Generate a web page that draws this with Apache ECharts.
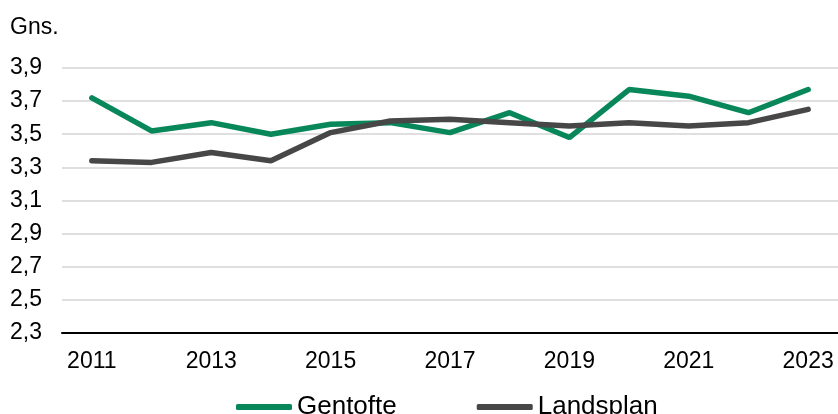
<!DOCTYPE html>
<html>
<head>
<meta charset="utf-8">
<script src="https://cdn.jsdelivr.net/npm/echarts@6/dist/echarts.min.js"></script>
<style>
html,body{margin:0;padding:0;background:#fff;}
#chart{width:838px;height:414px;}
</style>
</head>
<body>
<div id="chart"></div>
<script>
const years = ['2011','2012','2013','2014','2015','2016','2017','2018','2019','2020','2021','2022','2023'];
const gentofte = [3.72,3.52,3.57,3.50,3.56,3.57,3.51,3.63,3.48,3.77,3.73,3.63,3.77];
const landsplan = [3.34,3.33,3.39,3.34,3.51,3.58,3.59,3.57,3.55,3.57,3.55,3.57,3.65];
const seriesNames = ['Gentofte','Landsplan'];
const yTitle = 'Gns.';

const FONT = '"Liberation Sans", Arial, sans-serif';
const chart = echarts.init(document.getElementById('chart'), null, {renderer:'canvas'});
chart.setOption({
  animation:false,
  backgroundColor:'#fff',
  textStyle:{fontFamily:FONT},
  grid:{left:62,right:0,top:68,bottom:81,containLabel:false},
  graphic:[{type:'text',left:10,top:16,style:{text:yTitle,font:'23px '+FONT,fill:'#000'}}],
  legend:{
    data:seriesNames,
    left:231, top:389, padding:5,
    itemWidth:56, itemHeight:6, itemGap:80,
    icon:'roundRect',
    textStyle:{fontSize:26,color:'#000',fontFamily:FONT}
  },
  xAxis:{
    type:'category', data:years, boundaryGap:true,
    axisLine:{lineStyle:{color:'#000',width:2}},
    axisTick:{show:false},
    axisLabel:{interval:1,color:'#000',fontSize:23,fontFamily:FONT,margin:17}
  },
  yAxis:{
    type:'value', min:2.3, max:3.9, interval:0.2,
    axisLine:{show:false}, axisTick:{show:false},
    axisLabel:{color:'#000',fontSize:23,fontFamily:FONT,margin:20,
      formatter:v=>v.toFixed(1).replace('.',',')},
    splitLine:{lineStyle:{color:'#d4d4d4',width:1.5}}
  },
  series:[
    {name:seriesNames[0],type:'line',data:gentofte,symbol:'none',
     lineStyle:{color:'#08875a',width:5.5,cap:'round'},itemStyle:{color:'#08875a'}},
    {name:seriesNames[1],type:'line',data:landsplan,symbol:'none',
     lineStyle:{color:'#474747',width:5.5,cap:'round'},itemStyle:{color:'#474747'}}
  ]
});
</script>
</body>
</html>
